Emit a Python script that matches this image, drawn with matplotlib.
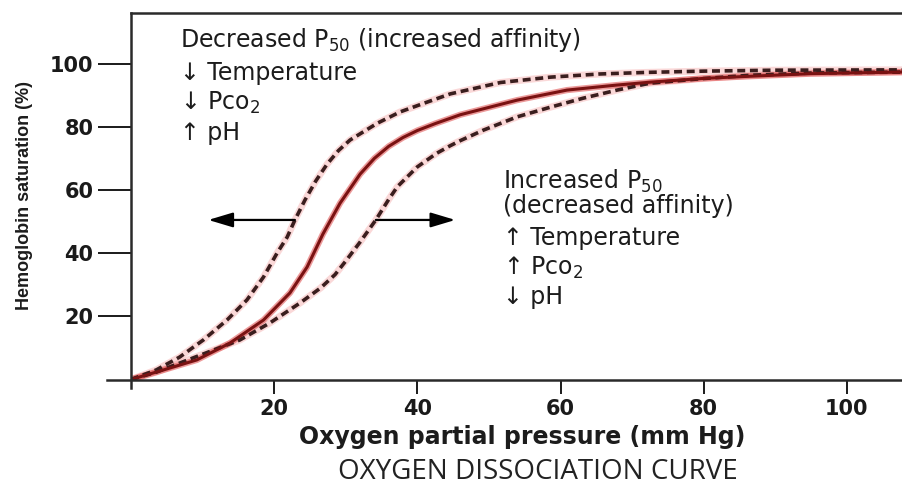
import matplotlib
matplotlib.use("Agg")
import matplotlib.pyplot as plt

plt.rcParams["font.family"] = ["DejaVu Sans"]
plt.rcParams["mathtext.fontset"] = "dejavusans"

# curves: O2 partial pressure (mm Hg) -> saturation (%)
normal_x = [0, 4.5, 9.2, 13.8, 18.5, 22.2, 24.6, 26.8, 29.2, 32, 34, 36, 38, 40, 42.5, 46,
            53.9, 60.9, 67.9, 72.5, 80, 86.6, 95, 107.7]
normal_y = [0, 3.0, 6.2, 11.5, 18.8, 27.4, 35.6, 46, 55.8, 65, 70, 73.8, 76.6, 78.8, 81, 83.8,
            88.4, 91.6, 93.2, 94.1, 95.3, 96, 96.8, 97.3]

left_x = [0, 3.5, 6.8, 10.1, 13.4, 16.2, 18.5, 20.4, 21.8, 22.9, 24.3, 25.8, 27.4, 29, 30.6, 34.4,
          37.6, 41, 44.6, 51.6, 58.6, 65.5, 72, 80, 90, 107.7]
left_y = [0, 3, 7.1, 12.5, 18.8, 25.2, 32.4, 40, 45, 50.5, 56.8, 62.8, 68.2, 72.5, 75.8, 81.1,
          84.7, 87.5, 90.4, 94, 95.7, 96.7, 97.2, 97.6, 97.9, 98]

right_x = [0, 3.5, 6.8, 11.5, 15.2, 19.4, 23.6, 26.5, 28.5, 30, 32, 34.2, 36, 37.2, 40, 42.7, 44.6, 46,
           49.2, 53.9, 58.6, 63.1, 67.9, 72.5, 79.6, 86.6, 95, 107.7]
right_y = [0, 2.3, 5.2, 9.3, 12.5, 17.9, 24.2, 29, 33.2, 37.5, 43.5, 50.5, 57, 61, 67.3, 71.6, 74.0, 75.6,
           78.9, 83.1, 86.2, 89, 91.6, 93.8, 95.2, 96.3, 97, 97.3]

xticks = [20, 40, 60, 80, 100]
yticks = [20, 40, 60, 80, 100]
p50_left, p50_right = 22.9, 34.2   # shift arrows start on the dashed curves (y = 50)

INK = "#1c1c1c"
fig = plt.figure(figsize=(9.02, 4.91), dpi=100)
ax = fig.add_axes([131/902, (491-379.5)/491, (902-131)/902, (379.5-13)/491])
ax.set_xlim(0, 107.7); ax.set_ylim(0, 116)

# faint red halo under each curve, dark core on top
ax.plot(left_x, left_y, color="#f08080", lw=5, alpha=0.3)
ax.plot(right_x, right_y, color="#f08080", lw=5, alpha=0.3)
ax.plot(normal_x, normal_y, color="#d62020", lw=4.5, alpha=0.45)
ax.plot(left_x, left_y, color="#3a1e1e", lw=2.6, dashes=(2.2, 1.3))
ax.plot(right_x, right_y, color="#3a1e1e", lw=2.6, dashes=(2.2, 1.3))
ax.plot(normal_x, normal_y, color="#7a1212", lw=2.2)

# shift arrows at P50
arr = dict(arrowstyle="-|>,head_length=1.5,head_width=0.45", color="black", lw=1.6, shrinkA=0, shrinkB=0)
ax.annotate("", xy=(10.8, 50.5), xytext=(p50_left, 50.5), arrowprops=arr)
ax.annotate("", xy=(45.3, 50.5), xytext=(p50_right, 50.5), arrowprops=arr)

fs = 17
ax.text(6.8, 107.4, "Decreased P$_{50}$ (increased affinity)", fontsize=fs, color=INK, va="center")
ax.text(6.8, 97.0, "\u2193 Temperature", fontsize=fs, color=INK, va="center")
ax.text(6.8, 87.5, "\u2193 Pco$_2$", fontsize=fs, color=INK, va="center")
ax.text(6.8, 78.0, "\u2191 pH", fontsize=fs, color=INK, va="center")

ax.text(52, 59.0, "Increased P$_{50}$\n(decreased affinity)", fontsize=fs, color=INK,
        va="center", linespacing=0.95)
ax.text(52, 44.8, "\u2191 Temperature", fontsize=fs, color=INK, va="center")
ax.text(52, 35.3, "\u2191 Pco$_2$", fontsize=fs, color=INK, va="center")
ax.text(52, 26.1, "\u2193 pH", fontsize=fs, color=INK, va="center")

# axes frame
for s in ["left", "bottom", "top"]:
    ax.spines[s].set_linewidth(1.8); ax.spines[s].set_color("#2a2a2a")
ax.spines["right"].set_visible(False)
ax.spines["bottom"].set_bounds(-3.3, 107.7)
ax.spines["left"].set_bounds(-2.6, 116)

ax.set_xticks(xticks); ax.set_yticks(yticks)
ax.set_xticklabels([str(t) for t in xticks], fontsize=15, fontweight="bold")
ax.set_yticklabels([str(t) for t in yticks], fontsize=15, fontweight="bold")
ax.tick_params(axis="y", direction="out", length=24, width=1.4, pad=3, colors="#1a1a1a")
ax.tick_params(axis="x", direction="out", length=10, width=1.4, pad=4, colors="#1a1a1a")

fig.text(25/902, 1-195/491, "Hemoglobin saturation (%)", rotation=90, fontsize=13,
         fontweight="bold", ha="center", va="center", color=INK, family="Liberation Sans")
fig.text(522/902, 1-437/491, "Oxygen partial pressure (mm Hg)", fontsize=17,
         fontweight="bold", ha="center", va="center", color=INK)
fig.text(538/902, 1-472/491, "OXYGEN DISSOCIATION CURVE", fontsize=20,
         ha="center", va="center", color="#222222", family="Open Sans")

fig.savefig("out.png", dpi=100)
